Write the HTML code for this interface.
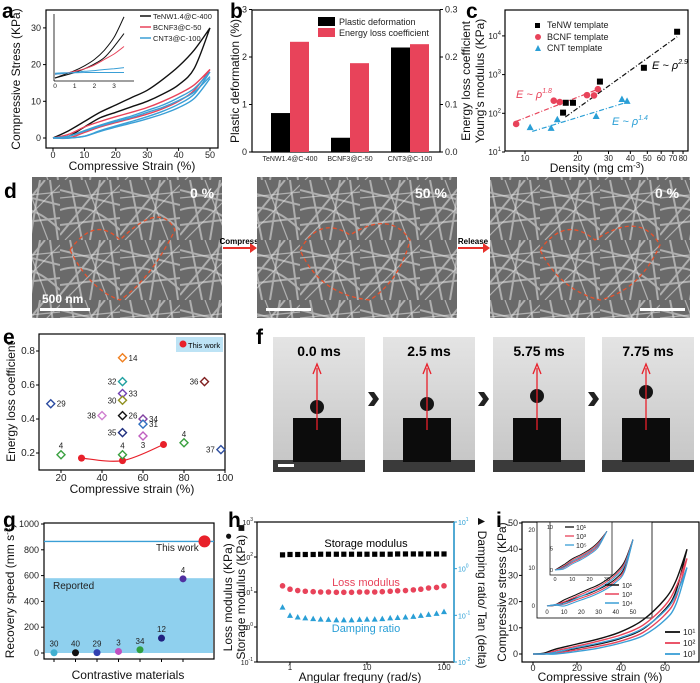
<!DOCTYPE html>
<html><head><meta charset="utf-8"><style>
html,body{margin:0;padding:0;background:#fff;}
svg{display:block;font-family:"Liberation Sans",Arial,sans-serif;}
.t{font-size:9px;fill:#222}
.at{font-size:12px;fill:#111}
.pl{font-size:21px;font-weight:bold;fill:#000}
</style></head><body>
<svg id="fig" width="700" height="683" viewBox="0 0 700 683" xmlns="http://www.w3.org/2000/svg">
<defs>
<pattern id="fib" width="60" height="60" patternUnits="userSpaceOnUse">
<rect width="60" height="60" fill="#6a6a6a"/>
<path d="M0 10 L60 25 M10 0 L22 60 M0 45 L60 38 M40 0 L30 60 M0 30 Q30 20 60 50 M50 0 L58 60 M0 55 L45 0" stroke="#c4c4c4" stroke-width="2" fill="none" opacity="0.75"/>
<path d="M5 60 L60 5 M0 18 L60 12 M25 0 L48 60" stroke="#e0e0e0" stroke-width="1.2" fill="none" opacity="0.6"/>
</pattern>
<linearGradient id="bg" x1="0" y1="0" x2="0" y2="1"><stop offset="0" stop-color="#e4e4e4"/><stop offset="1" stop-color="#c4c4c4"/></linearGradient>
</defs>

<text class="pl" x="2" y="18">a</text>
<text class="pl" x="230" y="18">b</text>
<text class="pl" x="466" y="18">c</text>
<text class="pl" x="4" y="198">d</text>
<text class="pl" x="3" y="344">e</text>
<text class="pl" x="256" y="344">f</text>
<text class="pl" x="3" y="527">g</text>
<text class="pl" x="228" y="527">h</text>
<text class="pl" x="496" y="527">i</text>

<rect x="46" y="10" width="172" height="138" fill="none" stroke="#000" stroke-width="1.2"/>
<text class="at" transform="translate(20,79) rotate(-90)" text-anchor="middle">Compressive Stress (KPa)</text>
<text class="at" x="132" y="170" text-anchor="middle">Compressive Strain (%)</text>
<g><line x1="54" y1="81" x2="134" y2="81" stroke="#000" stroke-width="0.8"/><line x1="54" y1="14" x2="54" y2="81" stroke="#000" stroke-width="0.8"/></g>

<rect x="252" y="10" width="188" height="142" fill="none" stroke="#000" stroke-width="1.2"/>
<text class="at" transform="translate(239,81) rotate(-90)" text-anchor="middle">Plastic deformation (%)</text>
<text class="at" transform="translate(470,81) rotate(-90)" text-anchor="middle">Energy loss coefficient</text>
<g>
<rect x="318" y="17" width="17" height="9" fill="#000"/><text class="t" x="339" y="25">Plastic deformation</text>
<rect x="318" y="28" width="17" height="9" fill="#e8435a"/><text class="t" x="339" y="36">Energy loss coefficient</text>
</g>

<rect x="505" y="10" width="183" height="141" fill="none" stroke="#000" stroke-width="1.2"/>
<text class="at" transform="translate(484,81) rotate(-90)" text-anchor="middle">Young's modulus (KPa)</text>
<text class="at" x="597" y="172" text-anchor="middle">Density (mg cm<tspan font-size="8" dy="-4">-3</tspan><tspan dy="4">)</tspan></text>
<g>
<rect x="535" y="23" width="5" height="5" fill="#000"/><text class="t" x="547" y="28">TeNW template</text>
<circle cx="538" cy="37" r="3" fill="#e8435a"/><text class="t" x="547" y="40">BCNF template</text>
<path d="M535 51 L538 45 L541 51Z" fill="#2a9fd6"/><text class="t" x="547" y="51">CNT template</text>
</g>
<text x="652" y="69" font-size="11" font-style="italic">E ~ ρ<tspan font-size="7" dy="-5">2.9</tspan></text>
<text x="516" y="98" font-size="11" font-style="italic" fill="#e8435a">E ~ ρ<tspan font-size="7" dy="-5">1.8</tspan></text>
<text x="612" y="125" font-size="11" font-style="italic" fill="#2a9fd6">E ~ ρ<tspan font-size="7" dy="-5">1.4</tspan></text>

<g>
<rect x="32" y="177" width="190" height="141" fill="url(#fib)"/>
<path d="M70 250 Q95 215 120 240 Q160 200 175 230 Q150 280 120 300 Q90 290 70 250" fill="none" stroke="#e8502a" stroke-width="1.3" stroke-dasharray="4 3"/>
<text x="190" y="198" font-size="14" font-weight="bold" fill="#fff">0 %</text>
<rect x="40" y="308" width="50" height="3" fill="#fff"/><text x="42" y="303" font-size="12" font-weight="bold" fill="#fff">500 nm</text>
</g>
<g><line x1="223" y1="248" x2="250" y2="248" stroke="#e8302a" stroke-width="2"/><path d="M250 243 L257 248 L250 253Z" fill="#e8302a"/><text x="239" y="244" font-size="8" font-weight="bold" text-anchor="middle">Compress</text></g>
<g>
<rect x="257" y="177" width="200" height="141" fill="url(#fib)"/>
<path d="M300 250 Q320 215 350 235 Q390 210 410 240 Q400 280 370 300 Q320 295 300 250" fill="none" stroke="#e8502a" stroke-width="1.3" stroke-dasharray="4 3"/>
<text x="415" y="198" font-size="14" font-weight="bold" fill="#fff">50 %</text>
<rect x="266" y="308" width="45" height="3" fill="#fff"/>
</g>
<g><line x1="458" y1="248" x2="483" y2="248" stroke="#e8302a" stroke-width="2"/><path d="M483 243 L490 248 L483 253Z" fill="#e8302a"/><text x="473" y="244" font-size="8" font-weight="bold" text-anchor="middle">Release</text></g>
<g>
<rect x="490" y="177" width="200" height="141" fill="url(#fib)"/>
<path d="M540 250 Q565 215 595 240 Q640 210 660 245 Q640 290 600 300 Q560 290 540 250" fill="none" stroke="#e8502a" stroke-width="1.3" stroke-dasharray="4 3"/>
<text x="655" y="198" font-size="14" font-weight="bold" fill="#fff">0 %</text>
<rect x="640" y="308" width="45" height="3" fill="#fff"/>
</g>

<rect x="39" y="334" width="186" height="136" fill="none" stroke="#000" stroke-width="1.2"/>
<text class="at" transform="translate(15,402) rotate(-90)" text-anchor="middle">Energy loss coefficient</text>
<text class="at" x="132" y="493" text-anchor="middle">Compressive strain (%)</text>
<g><rect x="176" y="337" width="47" height="15" fill="#bde3f5"/><circle cx="183" cy="344" r="3.5" fill="#e8202a"/><text x="188" y="348" font-size="7.5">This work</text></g>

<g id="fpanel"></g>

<rect x="44" y="523" width="170" height="136" fill="none" stroke="#000" stroke-width="1.2"/>
<text class="at" transform="translate(14,591) rotate(-90)" text-anchor="middle">Recovery speed (mm s<tspan font-size="8" dy="-4">-1</tspan><tspan dy="4">)</tspan></text>
<text class="at" x="128" y="679" text-anchor="middle">Contrastive materials</text>

<rect x="257" y="522" width="197" height="140" fill="none" stroke="#000" stroke-width="1.2"/>
<line x1="454" y1="522" x2="454" y2="662" stroke="#2a9fd6" stroke-width="1.5"/>
<text class="at" transform="translate(232,592) rotate(-90)" text-anchor="middle" fill="#e8435a">Loss modulus (KPa) ●</text>
<text class="at" transform="translate(245,592) rotate(-90)" text-anchor="middle">Storage modulus (KPa) ■</text>
<text class="at" transform="translate(478,592) rotate(90)" text-anchor="middle" fill="#2a9fd6">▲ Damping ratio/ Tan (delta)</text>
<text class="at" x="360" y="681" text-anchor="middle">Angular frequny (rad/s)</text>
<text x="366" y="547" font-size="11" text-anchor="middle">Storage modulus</text>
<text x="366" y="586" font-size="11" text-anchor="middle" fill="#e8435a">Loss modulus</text>
<text x="366" y="632" font-size="11" text-anchor="middle" fill="#2a9fd6">Damping ratio</text>

<rect x="522" y="522" width="177" height="140" fill="none" stroke="#000" stroke-width="1.2"/>
<text class="at" transform="translate(506,592) rotate(-90)" text-anchor="middle">Compressive stress (KPa)</text>
<text class="at" x="600" y="681" text-anchor="middle">Compressive strain (%)</text>
<rect x="537" y="522" width="115" height="96" fill="#fff" stroke="#000" stroke-width="0.8"/>
<rect x="550" y="522" width="62" height="53" fill="#fff" stroke="#000" stroke-width="0.7"/>
<g id="g-all"></g>
</svg>
<script>
// panel a
const aStrain=[0,5,10,15,20,25,30,35,40,45,50];
const aBlackLoad=[0,2,4.5,7,9,11,13,16,19.5,24,30];
const aBlackUnload=[0,0.5,3,5.5,7,8.5,10,12,14.5,19,30];
const aRedLoad=[0,1,3,4.5,5.8,7,8.3,10,12,14.5,18.7];
const aRedUnload=[0,0,1.5,3,4.2,5.3,6.5,8,10,13,18.7];
const aBlueLoad=[0,0.5,2,3.5,4.8,6,7.5,9,11,13.5,18];
const aBlueUnload=[0,0,0.5,2,3.3,4.5,5.8,7.3,9.2,12,18];
const aTicksX=[0,10,20,30,40,50];
const aTicksY=[0,10,20,30];
const aInsetX=[0,0.5,1,1.5,2,2.5,3,3.5];
const aInsetBlack1=[16.5,17.5,18.5,19.8,21.5,24,27.5,33];
const aInsetBlack2=[16.5,17.2,18,19,20.3,22,25,28.5];
const aInsetRed=[17.5,17.8,18.3,19,20,21.5,23,25];
const aInsetBlue1=[17.5,17.8,18,18.3,18.5,18.8,19,19.3];
const aInsetBlue2=[17.8,17.9,17.9,18,18,18,18,18];
const aLegend=["TeNW1.4@C-400","BCNF3@C-50","CNT3@C-100"];
// panel b
const bCats=["TeNW1.4@C-400","BCNF3@C-50","CNT3@C-100"];
const bPlastic=[0.82,0.3,2.2];
const bEnergy=[0.232,0.187,0.227];
const bTicksL=[0,1,2,3];
const bTicksR=["0.0","0.1","0.2","0.3"];
// panel c
const cTenwX=[16.5,17.1,18.8,26.8,47.8,74];
const cTenwY=[104,187,187,660,1500,12800];
const cBcnfX=[8.9,14.6,15.8,22.6,24.8,26.1];
const cBcnfY=[53,212,195,295,290,420];
const cCntX=[10.7,14.1,15.3,25.5,35.8,38.3];
const cCntY=[44,42,70,85,235,210];
const cFitTenw=[[17,80],[74,9500]];
const cFitBcnf=[[8.9,62],[26.5,430]];
const cFitCnt=[[11,34],[38.5,195]];
const cTicksX=[10,20,30,40,50,60,70,80];
const cTicksY=[1,2,3,4];
// panel e
const eStrain=[15,20,50,50,50,50,40,50,60,60,50,60,50,80,90,98];
const eValue=[0.49,0.19,0.76,0.62,0.55,0.51,0.42,0.42,0.40,0.37,0.32,0.30,0.19,0.26,0.62,0.22];
const eLabels=["29","4","14","32","33","30","38","26","34","31","35","3","4","4","36","37"];
const eColors=["#2a4aa0","#3aa040","#f08020","#20a0a0","#7040b0","#909020","#d080d0","#111","#8040a0","#3070c0","#203080","#c060c0","#3aa040","#3aa040","#802020","#3050a0"];
const eLabelPos=["r","t","r","l","r","l","l","r","r","r","l","b","t","t","l","l"];
const eThisX=[30,50,70];
const eThisY=[0.17,0.155,0.25];
const eTicksX=[20,40,60,80,100];
const eTicksY=[0.2,0.4,0.6,0.8];
// panel g
const gLabels=["30","40","29","3","34","12","4"];
const gValues=[2,2,3,12,25,115,575];
const gColors=["#40b0d0","#111","#3040b0","#c050c0","#30a040","#202080","#5030a0"];
const gThisWork=865;
const gReported=580;
const gTicksY=[0,200,400,600,800,1000];
// panel h
const hFreq=[0.8,1,1.26,1.58,2,2.5,3.16,4,5,6.3,8,10,12.6,15.8,20,25,31.6,40,50,63,80,100];
const hStorage=[115,118,118,118,118,120,120,120,120,120,120,120,120,120,120,122,122,122,122,122,122,122];
const hLoss=[15,12,11,10.5,10.2,10,10,9.8,9.8,9.8,10,10,10,10.2,10.5,10.8,11,11.5,12,13,13.5,15];
const hDamping=[0.15,0.1,0.092,0.088,0.085,0.083,0.082,0.08,0.08,0.08,0.082,0.083,0.083,0.085,0.088,0.09,0.092,0.095,0.1,0.105,0.11,0.12];
const hTicksX=[1,10,100];
const hTicksL=[-1,0,1,2,3];
const hTicksR=[-2,-1,0,1];
// panel i
const iStrain=[0,5,10,20,30,40,50,60,65,70];
const iBlackLoad=[0,0.3,1.8,3.8,5.8,8.5,13,21,28,40];
const iBlackUnload=[0,0,0.6,2.2,3.8,6,9.5,17,24,40];
const iRedLoad=[0,0,1.2,3,5,7.3,11,18.5,25.5,36.5];
const iRedUnload=[0,0,0.3,1.6,3,5,8.2,15,21.5,36.5];
const iBlueLoad=[0,0,0.6,2.5,4.2,6.3,9.8,16.5,22.5,33];
const iBlueUnload=[0,0,0,1,2.3,4.2,7,13,19,33];
const iTicksX=[0,20,40,60];
const iTicksY=[0,10,20,30,40,50];
const iLegend=["10¹","10²","10³"];
const iInStrain=[0,5,10,15,20,25,30,35,40,45,50];
const iInLoad=[0,0.4,1.6,2.6,3.6,4.6,5.6,7,8.8,11.6,17.5];
const iInUnload=[0,0.2,1,1.8,2.6,3.4,4.4,5.6,7.2,10,17.5];
const iInTicksX=[0,10,20,30,40,50];
const iInTicksY=[0,10,20];
const iInLegend=["10¹","10³","10⁴"];
const iSubStrain=[0,5,10,15,20,25,30];
const iSubLoad=[0,1.2,2.6,3.6,4.8,6.5,9];
const iSubUnload=[0,0.8,2,3,4.2,5.9,9];
const iSubLegend=["10¹","10³","10⁵"];

const NS="http://www.w3.org/2000/svg";
const root=document.getElementById('g-all');
function mk(tag,attrs,parent){const e=document.createElementNS(NS,tag);for(const k in attrs)e.setAttribute(k,attrs[k]);(parent||root).appendChild(e);return e;}
function txt(x,y,s,size,anchor,fill,parent){const e=mk('text',{x:x,y:y,'font-size':size||8,'text-anchor':anchor||'middle',fill:fill||'#222'},parent);e.textContent=s;return e;}
function smooth(pts){if(pts.length<3){return 'M'+pts.map(p=>p.join(' ')).join('L');}let d='M'+pts[0][0]+' '+pts[0][1];for(let i=0;i<pts.length-1;i++){const p0=pts[Math.max(0,i-1)],p1=pts[i],p2=pts[i+1],p3=pts[Math.min(pts.length-1,i+2)];const c1=[p1[0]+(p2[0]-p0[0])/6,p1[1]+(p2[1]-p0[1])/6],c2=[p2[0]-(p3[0]-p1[0])/6,p2[1]-(p3[1]-p1[1])/6];d+='C'+c1[0].toFixed(1)+' '+c1[1].toFixed(1)+' '+c2[0].toFixed(1)+' '+c2[1].toFixed(1)+' '+p2[0].toFixed(1)+' '+p2[1].toFixed(1);}return d;}
const L10=Math.log10;

// panel a
const axA=v=>53+v*3.14, ayA=v=>138-v*3.67;
aTicksX.forEach(v=>{mk('line',{x1:axA(v),y1:148,x2:axA(v),y2:151,stroke:'#000'});const t=txt(axA(v),158,String(v),9);

});
aTicksY.forEach(v=>{mk('line',{x1:43,y1:ayA(v),x2:46,y2:ayA(v),stroke:'#000'});const t=txt(41,ayA(v)+3,String(v),9,'end');

});
function loopA(load,unload,col,name){const pts=aStrain.map((s,i)=>[axA(s),ayA(load[i])]);const pu=aStrain.map((s,i)=>[axA(s),ayA(unload[i])]);
const p=mk('path',{d:smooth(pts)+' '+smooth(pu),fill:'none',stroke:col,'stroke-width':1.4});

}
loopA(aBlackLoad,aBlackUnload,'#111','tenw-stress-loop');
loopA(aRedLoad,aRedUnload,'#e8435a','bcnf-stress-loop');
loopA(aBlueLoad,aBlueUnload,'#3a9fd6','cnt-stress-loop');
loopA(aBlueLoad.map(v=>v*0.93),aBlueUnload.map(v=>v*0.9),'#3a9fd6','cnt-stress-loop-2');
const axAi=v=>55+v*19.7, ayAi=v=>78-(v-16.5)*3.7;
[[aInsetBlack1,'#111'],[aInsetBlack2,'#111'],[aInsetRed,'#e8435a'],[aInsetBlue1,'#3a9fd6'],[aInsetBlue2,'#3a9fd6']].forEach(s=>{
const p=mk('path',{d:smooth(aInsetX.map((x,i)=>[axAi(x),ayAi(s[0][i])])),fill:'none',stroke:s[1],'stroke-width':1});

});
[0,1,2,3].forEach(v=>{txt(axAi(v),88,String(v),6.5);});
const aLegCols=['#111','#e8435a','#3a9fd6'];
aLegend.forEach((s,i)=>{mk('line',{x1:140,y1:16+i*11,x2:151,y2:16+i*11,stroke:aLegCols[i],'stroke-width':1.5});const t=txt(153,19+i*11,s,7.5,'start');

});

// panel b
const ayB=v=>152-v*47.5;
bTicksL.forEach(v=>{mk('line',{x1:249,y1:ayB(v),x2:252,y2:ayB(v),stroke:'#000'});txt(247,ayB(v)+3,String(v),9,'end');});
bTicksR.forEach((s,i)=>{mk('line',{x1:440,y1:ayB(i),x2:443,y2:ayB(i),stroke:'#000'});txt(445,ayB(i)+3,s,9,'start');});
bCats.forEach((c,i)=>{const cx=290+i*60;
const b1=mk('rect',{x:cx-19,y:ayB(bPlastic[i]),width:19,height:152-ayB(bPlastic[i]),fill:'#000'});


const b2=mk('rect',{x:cx,y:ayB(bEnergy[i]*10),width:19,height:152-ayB(bEnergy[i]*10),fill:'#e8435a'});


const t=txt(cx,161,c,7);

});

// panel c
const axC=v=>525+L10(v/10)*175, ayC=v=>152-(L10(v)-1)*38.7;
cTicksX.forEach(v=>{mk('line',{x1:axC(v),y1:151,x2:axC(v),y2:154,stroke:'#000'});txt(axC(v),161,String(v),8);});
cTicksY.forEach(e=>{const y=152-(e-1)*38.7;mk('line',{x1:502,y1:y,x2:505,y2:y,stroke:'#000'});const t=txt(501,y+3,'10',8.5,'end');const ts=mk('tspan',{dy:-4,'font-size':6},t);ts.textContent=String(e);});
function fitC(f,col,name){const p=mk('line',{x1:axC(f[0][0]),y1:ayC(f[0][1]),x2:axC(f[1][0]),y2:ayC(f[1][1]),stroke:col,'stroke-width':1.2,'stroke-dasharray':'5 2 1 2'});

}
fitC(cFitTenw,'#111','tenw-fit-line');fitC(cFitBcnf,'#e8435a','bcnf-fit-line');fitC(cFitCnt,'#2a9fd6','cnt-fit-line');
cTenwX.forEach((x,i)=>{const m=mk('rect',{x:axC(x)-3,y:ayC(cTenwY[i])-3,width:6,height:6,fill:'#000'});

});
cBcnfX.forEach((x,i)=>{const m=mk('circle',{cx:axC(x),cy:ayC(cBcnfY[i]),r:3.3,fill:'#e8435a'});

});
cCntX.forEach((x,i)=>{const X=axC(x),Y=ayC(cCntY[i]);const m=mk('path',{d:`M${X-3.5} ${Y+3} L${X} ${Y-3.5} L${X+3.5} ${Y+3}Z`,fill:'#2a9fd6'});

});

// panel e
const axE=v=>61+(v-20)*2.05, ayE=v=>453-(v-0.2)*170;
eTicksX.forEach(v=>{mk('line',{x1:axE(v),y1:470,x2:axE(v),y2:473,stroke:'#000'});txt(axE(v),481,String(v),10);});
eTicksY.forEach(v=>{mk('line',{x1:36,y1:ayE(v),x2:39,y2:ayE(v),stroke:'#000'});txt(35,ayE(v)+3,v.toFixed(1),10,'end');});
const tp=eThisX.map((x,i)=>[axE(x),ayE(eThisY[i])]);
const tl=mk('path',{d:smooth(tp),fill:'none',stroke:'#e8202a','stroke-width':1.2});


tp.forEach(p=>{const c=mk('circle',{cx:p[0],cy:p[1],r:3.5,fill:'#e8202a'});

});
eStrain.forEach((x,i)=>{const X=axE(x),Y=ayE(eValue[i]);
const d=mk('path',{d:`M${X} ${Y-4} L${X+4} ${Y} L${X} ${Y+4} L${X-4} ${Y}Z`,fill:'#fff',stroke:eColors[i],'stroke-width':1.4});


const pos=eLabelPos[i];let lx=X+6,ly=Y+3,an='start';
if(pos==='l'){lx=X-6;an='end';}else if(pos==='t'){lx=X;ly=Y-6;an='middle';}else if(pos==='b'){lx=X;ly=Y+12;an='middle';}
txt(lx,ly,eLabels[i],8,an);});

// panel f
const fp=document.getElementById('fpanel');
const fTimes=["0.0 ms","2.5 ms","5.75 ms","7.75 ms"];
const fX=[273,383,493,602];
fTimes.forEach((s,i)=>{const x=fX[i],w=92;
const g=mk('g',{},fp);


mk('rect',{x:x,y:337,width:w,height:135,fill:'url(#bg)'},g);
mk('rect',{x:x,y:460,width:w,height:12,fill:'#3a3a3a'},g);
mk('rect',{x:x+20,y:418,width:48,height:44,fill:'#0c0c0c'},g);
const by=[407,404,396,392][i];
mk('circle',{cx:x+44,cy:by,r:7,fill:'#151515'},g);
mk('line',{x1:x+44,y1:430,x2:x+44,y2:368,stroke:'#e8202a','stroke-width':1.3},g);
mk('path',{d:`M${x+40} ${374} L${x+44} ${364} L${x+48} ${374}`,fill:'none',stroke:'#e8202a','stroke-width':1.3},g);
txt(x+w/2,356,s,14,'middle','#000',g).setAttribute('font-weight','bold');
if(i<3){const c=mk('path',{d:`M${x+w+3} 392 L${x+w+9} 392 L${x+w+14} 399 L${x+w+9} 406 L${x+w+3} 406 L${x+w+8} 399Z`,fill:'#222'},fp);

}});
mk('rect',{x:278,y:464,width:16,height:3,fill:'#fff'},fp);

// panel g
const ayG=v=>653-v*0.129;
const band=mk('rect',{x:45,y:ayG(gReported),width:168,height:653-ayG(gReported),fill:'#8fd0ee'});


txt(53,589,'Reported',10,'start');
gTicksY.forEach(v=>{mk('line',{x1:41,y1:ayG(v),x2:44,y2:ayG(v),stroke:'#000'});txt(39,ayG(v)+3,String(v),9,'end');});
const gl=mk('line',{x1:44,y1:ayG(gThisWork),x2:214,y2:ayG(gThisWork),stroke:'#3a9fd6','stroke-width':1.3});


txt(156,551,'This work',10,'start');
gValues.forEach((v,i)=>{const X=54+i*21.5;mk('line',{x1:X,y1:659,x2:X,y2:662,stroke:'#000'});
const c=mk('circle',{cx:X,cy:ayG(v),r:3.5,fill:gColors[i]});


txt(X,ayG(v)-6,gLabels[i],8);});
const gx=54+7*21.5;
const tw=mk('circle',{cx:gx,cy:ayG(gThisWork),r:6,fill:'#e8202a'});



// panel h
const axH=v=>290+L10(v)*77, ayHL=v=>662-(L10(v)+1)*35, ayHR=v=>662-(L10(v)+2)*46.67;
hTicksX.forEach(v=>{mk('line',{x1:axH(v),y1:662,x2:axH(v),y2:665,stroke:'#000'});txt(axH(v),670,String(v),8);});
hTicksL.forEach(e=>{const y=662-(e+1)*35;mk('line',{x1:254,y1:y,x2:257,y2:y,stroke:'#000'});const t=txt(253,y+3,'10',7,'end');const ts=mk('tspan',{dy:-4,'font-size':5},t);ts.textContent=String(e);});
hTicksR.forEach(e=>{const y=662-(e+2)*46.67;mk('line',{x1:454,y1:y,x2:457,y2:y,stroke:'#2a9fd6'});const t=txt(458,y+3,'10',7,'start','#2a9fd6');const ts=mk('tspan',{dy:-4,'font-size':5},t);ts.textContent=String(e);});
hFreq.forEach((f,i)=>{const X=axH(f);
const s=mk('rect',{x:X-2.6,y:ayHL(hStorage[i])-2.6,width:5.2,height:5.2,fill:'#000'});


const l=mk('circle',{cx:X,cy:ayHL(hLoss[i]),r:2.8,fill:'#e8435a'});


const Y=ayHR(hDamping[i]);
const d=mk('path',{d:`M${X-3} ${Y+2.5} L${X} ${Y-3} L${X+3} ${Y+2.5}Z`,fill:'#2a9fd6'});

});

// panel i
const axI=v=>533+v*2.2, ayI=v=>654-v*2.62;
iTicksX.forEach(v=>{mk('line',{x1:axI(v),y1:662,x2:axI(v),y2:665,stroke:'#000'});txt(axI(v),671,String(v),9);});
iTicksY.forEach(v=>{mk('line',{x1:519,y1:ayI(v),x2:522,y2:ayI(v),stroke:'#000'});txt(518,ayI(v)+3,String(v),9,'end');});
const iCols=['#111','#e8435a','#3a9fd6'];
function loopI(load,unload,col,name,fx,fy,w){const p=mk('path',{d:smooth(load.map((v,i)=>[fx(i),fy(v)]))+' '+smooth(unload.map((v,i)=>[fx(i),fy(v)])),fill:'none',stroke:col,'stroke-width':w});

}
const ixm=i=>axI(iStrain[i]);
loopI(iBlackLoad,iBlackUnload,'#111','cycle-10-1-loop',ixm,ayI,1.4);
loopI(iRedLoad,iRedUnload,'#e8435a','cycle-10-2-loop',ixm,ayI,1.4);
loopI(iBlueLoad,iBlueUnload,'#3a9fd6','cycle-10-3-loop',ixm,ayI,1.4);
iLegend.forEach((s,i)=>{mk('line',{x1:665,y1:632+i*11,x2:680,y2:632+i*11,stroke:iCols[i],'stroke-width':1.8});const t=txt(683,635+i*11,s,8.5,'start');

});
// inset
const axIn=v=>547+v*1.72, ayIn=v=>606-v*3.8;
iInTicksX.forEach(v=>{txt(axIn(v),614,String(v),6);});
iInTicksY.forEach(v=>{txt(535,ayIn(v)+2,String(v),6,'end');});
const ixIn=i=>axIn(iInStrain[i]);
[0,1,2].forEach(k=>{loopI(iInLoad.map((v,i)=>v-k*0.5*(i>1&&i<10?1:0)),iInUnload.map((v,i)=>v-k*0.5*(i>1&&i<10?1:0)),iCols[k],'panel-i-inset-loop',ixIn,ayIn,1.1);});
iInLegend.forEach((s,i)=>{mk('line',{x1:605,y1:585+i*9,x2:619,y2:585+i*9,stroke:iCols[i],'stroke-width':1.5});txt(622,588+i*9,s,7,'start');});
// sub inset
const axSub=v=>555+v*1.73, aySub=v=>570-v*4.3;
[0,10,20,30].forEach(v=>{txt(axSub(v),581,String(v),5.5);});
[0,5,10].forEach(v=>{txt(553,aySub(v)+2,String(v),5.5,'end');});
const ixSub=i=>axSub(iSubStrain[i]);
[0,1,2].forEach(k=>{loopI(iSubLoad.map((v,i)=>v-k*0.3*(i>0&&i<6?1:0)),iSubUnload.map((v,i)=>v-k*0.3*(i>0&&i<6?1:0)),iCols[k],'panel-i-sub-inset-loop',ixSub,aySub,0.9);});
iSubLegend.forEach((s,i)=>{mk('line',{x1:565,y1:527+i*9,x2:574,y2:527+i*9,stroke:iCols[i],'stroke-width':1.3});txt(576,530+i*9,s,7,'start');});
</script>
</body></html>
